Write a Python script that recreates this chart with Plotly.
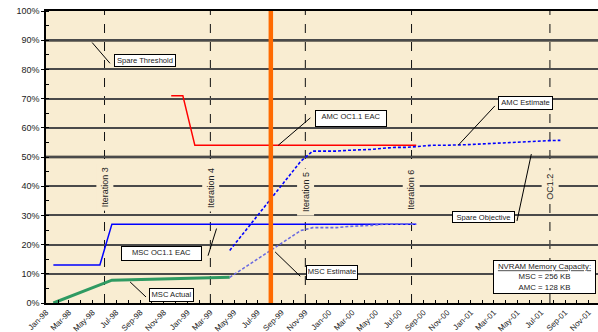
import plotly.graph_objects as go

# ---------------- data (values in %) ----------------
amc_eac_dates = ["1998-11-20", "1998-12-20", "1999-01-20", "2000-08-13"]
amc_eac_vals = [71, 71, 54, 54]

msc_eac_dates = ["1998-01-20", "1998-05-20", "1998-06-20", "2000-08-13"]
msc_eac_vals = [13, 13, 27, 27]

msc_actual_dates = ["1998-01-20", "1998-06-20", "1999-04-20"]
msc_actual_vals = [0, 7.8, 8.8]

amc_est_dates = ["1999-04-20", "1999-10-20", "1999-11-20", "1999-12-20", "2000-01-20",
                 "2000-02-20", "2000-03-20", "2000-04-20", "2000-05-20", "2000-06-20",
                 "2000-07-20", "2000-08-20", "2000-09-20", "2000-10-20", "2000-11-20",
                 "2000-12-20", "2001-01-20", "2001-02-20", "2001-03-20", "2001-04-20",
                 "2001-05-20", "2001-06-20", "2001-07-20", "2001-08-20"]
amc_est_vals = [18.0, 48.5, 52.0, 52.0, 52.0, 52.3, 52.4, 52.6, 53.0, 53.3,
                53.3, 53.7, 54.0, 54.0, 54.0, 54.2, 54.4, 54.6, 55.0, 55.0,
                55.2, 55.4, 55.6, 55.7]

msc_est_dates = ["1999-04-20", "1999-10-20", "1999-11-20", "1999-12-20", "2000-01-20",
                 "2000-02-20", "2000-03-20", "2000-04-20", "2000-05-20", "2000-06-20",
                 "2000-07-20", "2000-08-13"]
msc_est_vals = [8.8, 24.8, 25.8, 25.8, 25.8, 26.2, 26.3, 26.6, 27.0, 27.0, 27.0, 27.0]

spare_threshold = 90
spare_objective = 50

milestone_dates = ["1998-06-01", "1999-03-01", "1999-11-01", "2000-08-01", "2001-07-24"]
milestone_labels = ["Iteration 3", "Iteration 4", "Iteration 5", "Iteration 6", "OC1.2"]
milestone_label_y = [39.5, 39.5, 38.1, 38.6, 39.8]
today_date = "1999-08-04"

# callouts: text, box center (date, %), leader tip (date, %), leader tail (date, %), box width
callout_text = ["Spare Threshold", "AMC OC1.1 EAC", "AMC Estimate", "Spare Objective",
                "MSC OC1.1 EAC", "MSC Estimate", "MSC Actual"]
callout_box = [("1998-09-14", 82.9), ("2000-02-26", 63.2), ("2001-05-23", 68.4),
               ("2001-02-02", 29.3), ("1998-10-27", 16.9), ("2000-01-09", 10.35),
               ("1998-11-22", 2.64)]
callout_tip = [("1998-04-30", 89.2), ("1999-08-23", 54.0), ("2000-11-30", 54.1),
               ("2001-06-06", 51.0), ("1999-03-17", 25.5), ("1999-08-15", 17.5),
               ("1998-08-06", 7.2)]
callout_tail = [("1998-06-15", 82.1), ("1999-11-14", 63.4), ("2001-03-04", 67.5),
                ("2001-04-30", 28.1), ("1999-02-23", 16.2), ("1999-10-19", 9.15),
                ("1998-09-16", 2.06)]
callout_width = [58, 68, 51, 59, 77, 48, 41]
callout_height = [9, 13, 10, 8, 11, 11, 10]

nvram_pos = ("2001-07-09", 9.05)
nvram_text = "<u>NVRAM Memory Capacity:</u><br>MSC = 256 KB<br>AMC = 128 KB"

x_range = ["1998-01-01", "2001-11-25"]

# ---------------- figure ----------------
FONT = "Arial, Liberation Sans, sans-serif"
PLOT_BG = "#F9EDD2"

fig = go.Figure()
fig.add_trace(go.Scatter(x=msc_actual_dates, y=msc_actual_vals, mode="lines",
                         line=dict(color="#2F9A62", width=3)))
fig.add_trace(go.Scatter(x=msc_eac_dates, y=msc_eac_vals, mode="lines",
                         line=dict(color="#0000FF", width=1.5)))
fig.add_trace(go.Scatter(x=amc_eac_dates, y=amc_eac_vals, mode="lines",
                         line=dict(color="#FF0000", width=1.5)))
fig.add_trace(go.Scatter(x=msc_est_dates, y=msc_est_vals, mode="lines",
                         line=dict(color="#6A6AE0", width=1.6, dash="3px,2px")))
fig.add_trace(go.Scatter(x=amc_est_dates, y=amc_est_vals, mode="lines",
                         line=dict(color="#0000FF", width=1.6, dash="3px,2px")))

shapes = []
for lvl in (spare_threshold, spare_objective):
    shapes.append(dict(type="line", xref="paper", yref="y", x0=0, x1=1, y0=lvl, y1=lvl,
                       line=dict(color="#000000", width=2.5), layer="below"))
for d in milestone_dates:
    shapes.append(dict(type="line", xref="x", yref="paper", x0=d, x1=d, y0=0, y1=1,
                       line=dict(color="#111111", width=1, dash="dash"), layer="below"))
shapes.append(dict(type="line", xref="x", yref="paper", x0=today_date, x1=today_date,
                   y0=0, y1=1, line=dict(color="#FF6A00", width=4.5), layer="above"))
for (tx, ty), (sx, sy) in zip(callout_tip, callout_tail):
    shapes.append(dict(type="line", xref="x", yref="y", x0=tx, y0=ty, x1=sx, y1=sy,
                       line=dict(color="#000000", width=1), layer="above"))

annotations = []
for d, lab, ly in zip(milestone_dates, milestone_labels, milestone_label_y):
    annotations.append(dict(x=d, y=ly, xref="x", yref="y", text=lab, showarrow=False,
                            textangle=-90, bgcolor=PLOT_BG, borderpad=3,
                            font=dict(family=FONT, size=9, color="#222222")))
for txt, (bx, by), w, h in zip(callout_text, callout_box, callout_width, callout_height):
    annotations.append(dict(x=bx, y=by, xref="x", yref="y", text=txt, showarrow=False,
                            bgcolor="#FFFFFF", bordercolor="#000000", borderwidth=1,
                            borderpad=1, width=w, height=h, valign="top",
                            font=dict(family=FONT, size=7.6, color="#222222")))
annotations.append(dict(x=nvram_pos[0], y=nvram_pos[1], xref="x", yref="y", text=nvram_text,
                        showarrow=False, bgcolor="#FFFFFF", bordercolor="#000000",
                        borderwidth=1, borderpad=1, width=99, height=30,
                        font=dict(family=FONT, size=7.8, color="#222222")))

fig.update_layout(
    width=598, height=332,
    margin=dict(l=46, r=0, t=11, b=29),
    paper_bgcolor="#FFFFFF", plot_bgcolor=PLOT_BG,
    showlegend=False,
    shapes=shapes, annotations=annotations,
    font=dict(family=FONT, size=9, color="#222222"),
)
fig.update_xaxes(
    type="date", range=x_range, tick0="1998-01-01", dtick="M2", tickformat="%b-%y",
    tickangle=-45, tickfont=dict(family=FONT, size=8, color="#222222"),
    ticks="inside", ticklen=3, tickcolor="#000000",
    minor=dict(dtick="M1", ticks="inside", ticklen=3, tickcolor="#000000"),
    showgrid=False, showline=True, linecolor="#000000", linewidth=1.5, mirror=True,
    zeroline=False, automargin=False,
)
fig.update_yaxes(
    range=[0, 100], dtick=10, ticksuffix="%",
    tickfont=dict(family=FONT, size=9, color="#222222"),
    ticks="outside", ticklen=3, tickcolor="#000000",
    minor=dict(dtick=5, ticks="inside", ticklen=3, tickcolor="#000000", showgrid=False),
    showgrid=True, gridcolor="#4A4A4A", gridwidth=1.5,
    showline=True, linecolor="#000000", linewidth=1.5, zeroline=False, automargin=False,
)

fig.write_html(
    "out.html",
    config={"displayModeBar": False},
    post_script="document.body.style.margin='0px';document.body.style.padding='0px';",
)
